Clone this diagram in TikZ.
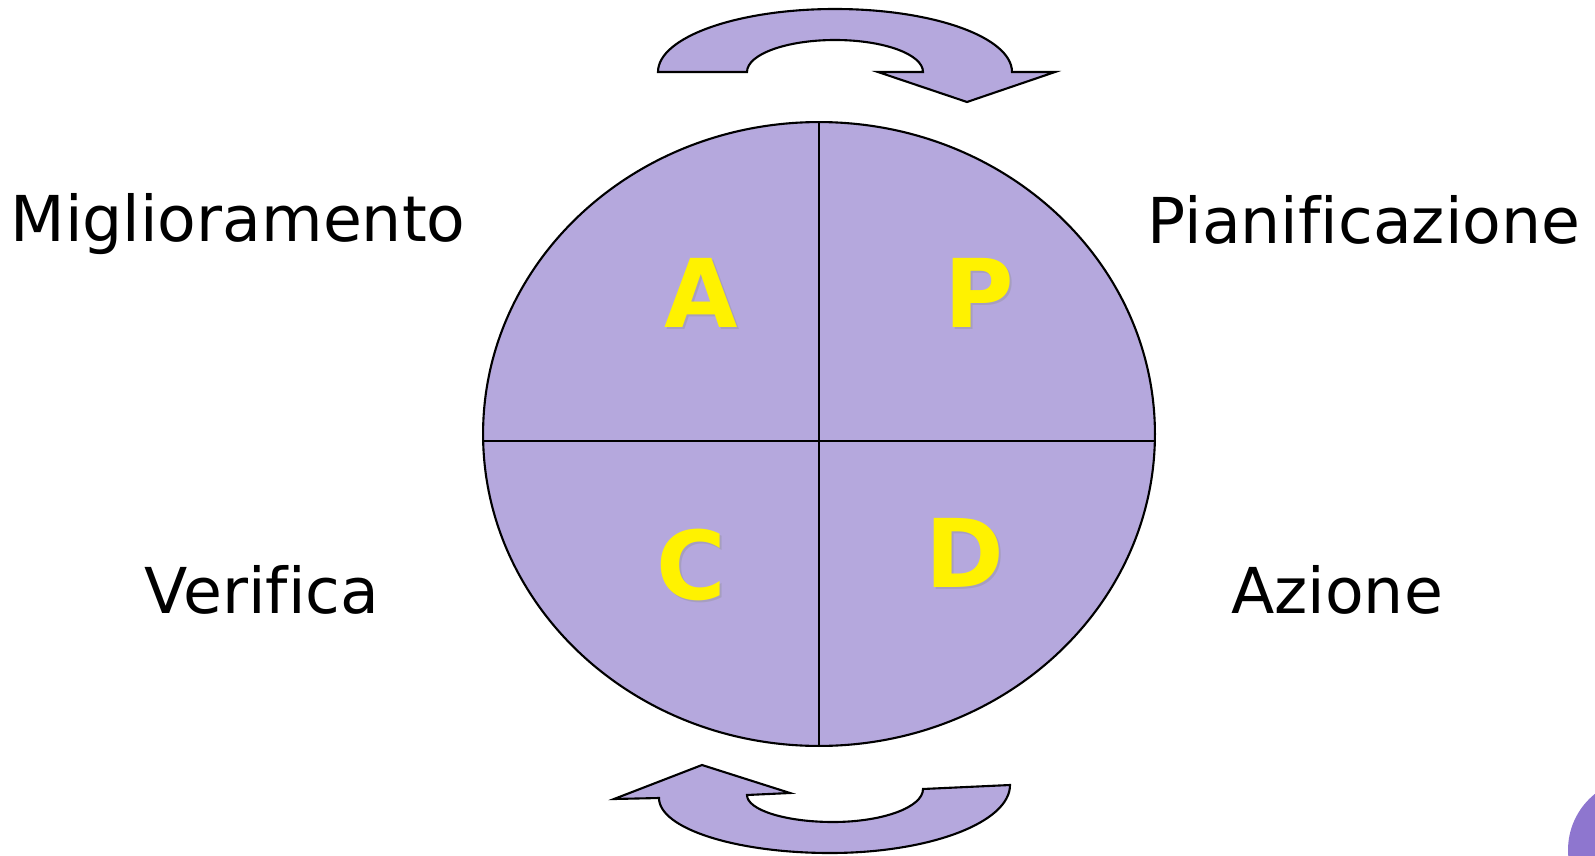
\documentclass[tikz,border=0pt]{standalone}
\usepackage{fontspec}
\setmainfont[Ligatures=CommonOff]{DejaVu Sans}
\usepackage{xcolor}
\usetikzlibrary{positioning, shapes.geometric}
\definecolor{lilla}{RGB}{181,168,221}
\definecolor{viola}{RGB}{142,118,207}

\begin{document}
\begin{tikzpicture}[
    x=0.02cm, y=-0.02cm,
    ciclo/.style={ellipse, draw, line width=1.2pt, fill=lilla, minimum width=13.44cm, minimum height=12.48cm, inner sep=0pt},
    lettera/.style={font=\fontsize{54}{54}\selectfont\bfseries, text=yellow, inner sep=0pt},
    ombra/.style={lettera, text=black!45, opacity=0.35},
    voce/.style={font=\fontsize{36}{36}\selectfont, anchor=base, inner sep=0pt},
    freccia/.style={draw, line width=1.2pt, fill=lilla, line join=miter},
    divisore/.style={draw, line width=1.2pt}
]
\useasboundingbox (0,0) rectangle (1595,855);
\fill[viola] (1640,850) circle (72);

\node[ciclo] (ciclo) at (819,434) {};
\draw[divisore] (ciclo.north) -- (ciclo.south);
\draw[divisore] ([yshift=-0.14cm]ciclo.west) -- ([yshift=-0.14cm]ciclo.east);

% lettere PDCA
\node[ombra] at (703,295) {A};
\node[ombra] at (981,295) {P};
\node[ombra] at (693,567) {C};
\node[ombra] at (967,555) {D};
\node[lettera] (A) at (701,293) {A};
\node[lettera] (P) at (979,293) {P};
\node[lettera] (C) at (691,565) {C};
\node[lettera] (D) at (965,553) {D};

\node[voce] (miglioramento) at (238,241) {Miglioramento};
\node[voce] (pianificazione) at (1364,243) {Pianificazione};
\node[voce] (verifica) at (262,613) {Verifica};
\node[voce] (azione) at (1337,613) {Azione};

% frecce curve
\draw[freccia] (658,72) -- (747,72)
    .. controls (747,54.3) and (786.4,40) .. (835,40)
    .. controls (883.6,40) and (923,54.3) .. (923,72)
    -- (878,72) -- (967,102) -- (1055,72) -- (1012,72)
    .. controls (1012,37.2) and (932.7,9) .. (835,9)
    .. controls (737.3,9) and (658,37.2) .. (658,72) -- cycle;
\draw[freccia] (614,799) -- (702,765) -- (790,793) -- (747,795)
    .. controls (747,809.9) and (785.5,822) .. (833,822)
    .. controls (882.7,822) and (923,807.2) .. (923,789)
    -- (1010,785)
    .. controls (1010,822.5) and (929.4,853) .. (830,853)
    .. controls (735.6,853) and (659,828.4) .. (659,798) -- cycle;
\end{tikzpicture}
\end{document}
